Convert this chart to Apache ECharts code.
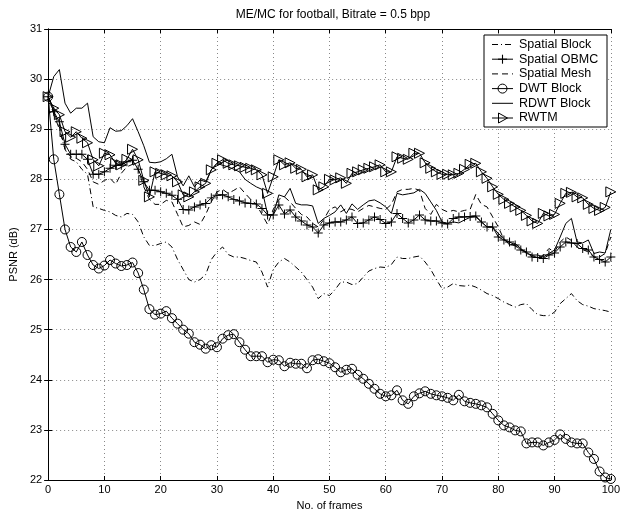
<!DOCTYPE html>
<html>
<head>
<meta charset="utf-8">
<script src="https://cdn.jsdelivr.net/npm/echarts@6/dist/echarts.min.js"></script>
<style>html,body{margin:0;padding:0;background:#fff}#c{width:623px;height:516px}</style>
</head>
<body>
<div id="c"></div>
<script>
const frames = Array.from({length: 101}, (_, i) => i);
const xTicks = [0, 10, 20, 30, 40, 50, 60, 70, 80, 90, 100];
const yTicks = [22, 23, 24, 25, 26, 27, 28, 29, 30, 31];

const spatialBlock = [29.65,29.3,29.0,28.6,28.4,28.35,28.2,28.1,27.45,27.42,
27.38,27.35,27.28,27.25,27.32,27.3,27.15,26.85,26.68,26.68,
26.72,26.75,26.65,26.4,26.2,26.0,25.95,26.0,26.1,26.4,
26.55,26.65,26.5,26.45,26.45,26.42,26.38,26.35,26.15,25.85,
26.2,26.35,26.42,26.35,26.25,26.15,26.0,25.85,25.62,25.72,
25.68,25.8,25.95,25.95,25.9,25.92,26.05,26.17,26.22,26.25,
26.24,26.3,26.45,26.42,26.42,26.45,26.47,26.35,26.2,26.0,
25.82,25.85,25.92,25.88,25.87,25.89,25.85,25.79,25.72,25.68,
25.62,25.55,25.5,25.45,25.5,25.52,25.4,25.3,25.28,25.28,
25.35,25.52,25.62,25.72,25.58,25.5,25.47,25.42,25.4,25.38,25.35];

const spatialOBMC = [29.65,29.35,29.15,28.7,28.5,28.5,28.5,28.4,28.1,28.1,
28.15,28.22,28.28,28.28,28.35,28.38,28.2,27.95,27.78,27.78,
27.75,27.72,27.68,27.6,27.4,27.39,27.45,27.49,27.52,27.63,
27.68,27.69,27.65,27.6,27.57,27.53,27.52,27.51,27.42,27.29,
27.29,27.49,27.31,27.39,27.25,27.17,27.09,27.05,26.93,27.09,
27.13,27.15,27.15,27.19,27.25,27.12,27.13,27.19,27.25,27.2,
27.12,27.15,27.32,27.22,27.13,27.19,27.29,27.19,27.17,27.17,
27.13,27.11,27.22,27.25,27.25,27.26,27.27,27.15,27.05,27.05,
26.85,26.79,26.75,26.69,26.59,26.55,26.45,26.44,26.42,26.49,
26.53,26.65,26.75,26.73,26.72,26.62,26.59,26.45,26.4,26.35,26.45];

const spatialMesh = [29.65,29.35,29.05,28.6,28.45,28.42,28.35,28.2,27.95,27.9,
27.98,28.02,27.9,28.12,28.25,28.3,28.2,27.85,27.6,27.5,
27.5,27.58,27.55,27.3,27.05,27.08,27.15,27.1,27.3,27.55,
27.75,27.8,27.72,27.78,27.85,27.72,27.6,27.5,27.3,27.1,
27.4,27.6,27.65,27.55,27.42,27.3,27.25,27.12,27.05,27.2,
27.4,27.45,27.35,27.42,27.4,27.35,27.42,27.48,27.45,27.42,
27.4,27.5,27.75,27.8,27.8,27.82,27.78,27.42,27.3,27.5,
27.4,27.35,27.38,27.35,27.38,27.4,27.7,27.5,27.45,27.25,
27.05,26.8,26.72,26.67,26.6,26.55,26.48,26.45,26.48,26.62,
26.55,26.75,26.85,26.78,26.65,26.6,26.55,26.45,26.45,26.52,26.85];

const dwtBlock = [29.65,28.4,27.7,27.0,26.65,26.55,26.75,26.49,26.29,26.22,
26.28,26.39,26.32,26.27,26.29,26.34,26.13,25.8,25.41,25.3,
25.32,25.37,25.23,25.12,25.0,24.92,24.75,24.7,24.62,24.69,
24.65,24.82,24.89,24.91,24.75,24.6,24.47,24.47,24.47,24.35,
24.4,24.39,24.27,24.34,24.32,24.32,24.23,24.39,24.41,24.37,
24.33,24.25,24.15,24.2,24.22,24.1,24.02,23.92,23.82,23.72,
23.67,23.69,23.79,23.59,23.52,23.67,23.73,23.77,23.72,23.69,
23.67,23.64,23.59,23.7,23.57,23.54,23.52,23.49,23.45,23.32,
23.19,23.09,23.05,22.99,22.97,22.73,22.75,22.75,22.69,22.75,
22.8,22.91,22.82,22.75,22.73,22.73,22.55,22.42,22.17,22.05,22.02];

const rdwtBlock = [29.65,30.05,30.19,29.52,29.32,29.42,29.42,29.52,28.85,28.75,
28.73,29.03,28.96,28.97,29.07,29.21,28.95,28.67,28.34,28.33,
28.35,28.41,28.5,28.05,27.87,28.07,27.85,27.99,27.95,28.19,
28.32,28.28,28.25,28.2,28.15,28.0,27.92,27.85,27.8,27.3,
27.29,27.69,27.65,27.82,27.52,27.49,27.49,27.47,27.12,27.22,
27.28,27.35,27.49,27.32,27.51,27.4,27.49,27.57,27.59,27.53,
27.45,27.32,27.72,27.69,27.71,27.73,27.8,27.72,27.55,27.38,
27.15,27.12,27.15,27.13,27.19,27.24,27.25,27.15,27.05,27.05,
26.92,26.82,26.69,26.72,26.62,26.52,26.49,26.49,26.45,26.52,
26.59,26.85,27.12,27.22,26.75,26.73,26.79,26.52,26.55,26.53,27.0];

const rwtm = [29.65,29.42,29.29,28.95,28.84,28.95,28.82,28.73,28.39,28.27,
28.52,28.49,28.32,28.29,28.4,28.6,28.39,27.98,27.65,28.15,
28.12,28.09,28.07,27.95,27.69,27.65,27.75,27.85,27.92,28.19,
28.32,28.39,28.32,28.29,28.27,28.24,28.22,28.19,28.09,27.72,
28.05,28.39,28.29,28.33,28.22,28.2,28.05,28.09,27.79,27.85,
28.0,27.99,28.03,27.92,28.12,28.15,28.19,28.22,28.25,28.29,
28.15,28.15,28.45,28.42,28.4,28.52,28.52,28.33,28.22,28.15,
28.1,28.1,28.09,28.12,28.2,28.3,28.32,28.15,28.02,27.85,
27.7,27.6,27.52,27.45,27.38,27.28,27.17,27.12,27.32,27.27,
27.3,27.52,27.72,27.74,27.65,27.63,27.5,27.42,27.38,27.44,27.75];

const names = ['Spatial Block','Spatial OBMC','Spatial Mesh','DWT Block','RDWT Block','RWTM'];
const dashes = [[6, 3, 1, 3], null, [6, 4], null, null, null];
const markers = ['none', 'plus', 'none', 'circle', 'none', 'triangle'];

const FONT = 'Liberation Sans, Arial, Helvetica, sans-serif';
const pairs = arr => frames.map((f, i) => [f, arr[i]]);
const plusPath = 'path://M-0.55,-5h1.1v4.45h4.45v1.1h-4.45v4.45h-1.1v-4.45h-4.45v-1.1h4.45z';

function mk(idx, data) {
  const m = markers[idx];
  let symbol = 'none', size = 0, rot = 0;
  if (m === 'plus') { symbol = plusPath; size = 9; }
  if (m === 'circle') { symbol = 'circle'; size = 9; }
  if (m === 'triangle') { symbol = 'triangle'; size = 10; rot = -90; }
  return {
    name: names[idx], type: 'line', data: pairs(data),
    symbol: symbol, symbolSize: size, symbolRotate: rot,
    showSymbol: symbol !== 'none', animation: false, silent: true,
    lineStyle: {color: '#000', width: 1, type: dashes[idx] || 'solid'},
    itemStyle: m === 'plus' ? {color: '#000'} : {color: 'rgba(0,0,0,0)', borderColor: '#000', borderWidth: 1},
    emphasis: {disabled: true}
  };
}

// legend drawn as graphic (box, sample line, marker, label)
const LX = 484, LY = 35, LW = 123, LH = 92, ROW = 14.7, ROW0 = 9.5;
const legendEls = [{type: 'rect', shape: {x: LX, y: LY, width: LW, height: LH},
  style: {fill: '#fff', stroke: '#000', lineWidth: 1}, z: 100}];
names.forEach((n, i) => {
  const y = LY + ROW0 + i * ROW;
  legendEls.push({type: 'line', shape: {x1: LX + 8, y1: y, x2: LX + 29, y2: y},
    style: {stroke: '#000', lineWidth: 1, lineDash: dashes[i] || null}, z: 101});
  const cx = LX + 18.5;
  if (markers[i] === 'plus') {
    legendEls.push({type: 'line', shape: {x1: cx, y1: y - 4.5, x2: cx, y2: y + 4.5}, style: {stroke: '#000', lineWidth: 1.1}, z: 101});
    legendEls.push({type: 'line', shape: {x1: cx - 4.5, y1: y, x2: cx + 4.5, y2: y}, style: {stroke: '#000', lineWidth: 1.1}, z: 101});
  } else if (markers[i] === 'circle') {
    legendEls.push({type: 'circle', shape: {cx: cx, cy: y, r: 4.5}, style: {fill: 'none', stroke: '#000', lineWidth: 1}, z: 101});
  } else if (markers[i] === 'triangle') {
    legendEls.push({type: 'polygon', shape: {points: [[cx - 4, y - 5], [cx + 5, y], [cx - 4, y + 5]]}, style: {fill: 'none', stroke: '#000', lineWidth: 1}, z: 101});
  }
  legendEls.push({type: 'text', x: LX + 35, y: y, z: 101,
    style: {text: n, font: '12.5px ' + FONT, fill: '#000', textVerticalAlign: 'middle', verticalAlign: 'middle'}});
});

const chart = echarts.init(document.getElementById('c'), null, {renderer: 'canvas'});
const axisCommon = {
  type: 'value',
  axisLine: {show: true, lineStyle: {color: '#000', width: 1}},
  axisTick: {show: true, inside: true, length: 4, lineStyle: {color: '#000'}},
  axisLabel: {color: '#000', fontFamily: FONT, fontSize: 11},
  splitLine: {show: true, lineStyle: {color: '#888', type: [1, 3], width: 1}}
};
chart.setOption({
  animation: false,
  backgroundColor: '#fff',
  title: {
    text: 'ME/MC for football, Bitrate = 0.5 bpp',
    left: 328, top: 4, textAlign: 'center',
    textStyle: {fontFamily: FONT, fontSize: 12, fontWeight: 'normal', color: '#000'}
  },
  grid: {left: 42, right: 10, top: 29, bottom: 36, show: false},
  xAxis: [
    Object.assign({}, axisCommon, {
      min: 0, max: 100, interval: 10,
      name: 'No. of frames', nameLocation: 'middle', nameGap: 20,
      nameTextStyle: {fontFamily: FONT, fontSize: 11, color: '#000'},
      axisLabel: {color: '#000', fontFamily: FONT, fontSize: 11, margin: 4}
    }),
    {type: 'value', position: 'top', min: 0, max: 100, interval: 10,
     axisLine: {show: true, lineStyle: {color: '#000'}},
     axisTick: {show: true, inside: true, length: 4, lineStyle: {color: '#000'}},
     axisLabel: {show: false}, splitLine: {show: false}}
  ],
  yAxis: [
    Object.assign({}, axisCommon, {
      min: 22, max: 31, interval: 1,
      name: 'PSNR (dB)', nameLocation: 'middle', nameGap: 26, nameRotate: 90,
      nameTextStyle: {fontFamily: FONT, fontSize: 11, color: '#000'},
      axisLabel: {color: '#000', fontFamily: FONT, fontSize: 11, margin: 6}
    }),
    {type: 'value', position: 'right', min: 22, max: 31, interval: 1,
     axisLine: {show: true, lineStyle: {color: '#000'}},
     axisTick: {show: true, inside: true, length: 4, lineStyle: {color: '#000'}},
     axisLabel: {show: false}, splitLine: {show: false}}
  ],
  graphic: legendEls,
  series: [
    mk(0, spatialBlock),
    mk(1, spatialOBMC),
    mk(2, spatialMesh),
    mk(3, dwtBlock),
    mk(4, rdwtBlock),
    mk(5, rwtm)
  ]
});
</script>
</body>
</html>
